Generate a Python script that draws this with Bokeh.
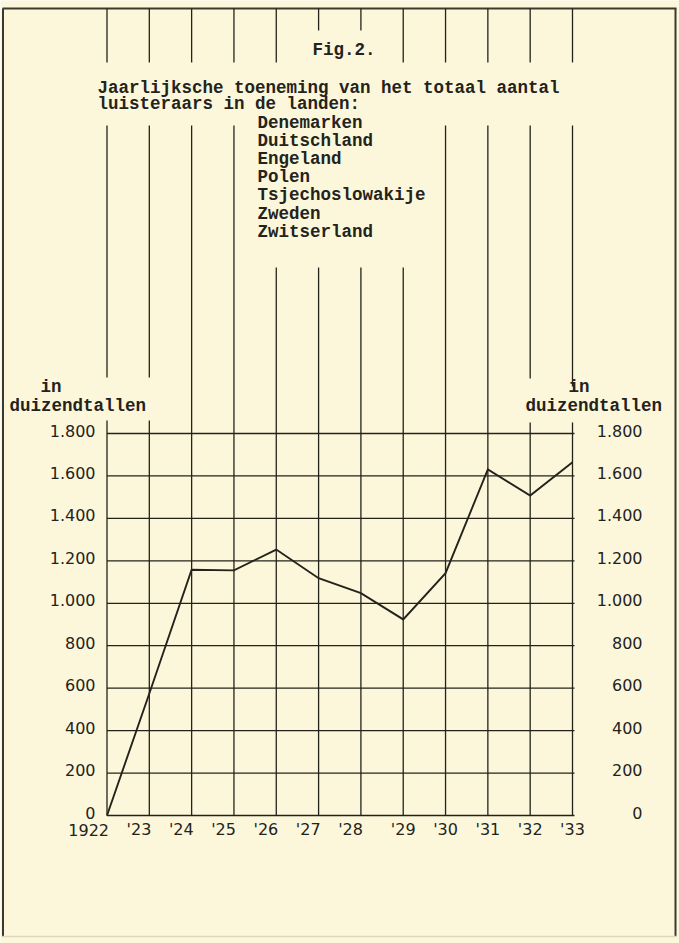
from bokeh.plotting import figure
from bokeh.models import Range1d
from bokeh.core.properties import value
from bokeh.embed import file_html
from bokeh.resources import INLINE

# ---------------- data ----------------
years = [1922, 1923, 1924, 1925, 1926, 1927, 1928, 1929, 1930, 1931, 1932, 1933]
listeners = [0, 575, 1158, 1155, 1253, 1118, 1048, 924, 1142, 1631, 1508, 1665]  # thousands
year_labels = ["1922", "'23", "'24", "'25", "'26", "'27", "'28", "'29", "'30", "'31", "'32", "'33"]
y_ticks = [0, 200, 400, 600, 800, 1000, 1200, 1400, 1600, 1800]
y_tick_labels = ["0", "200", "400", "600", "800", "1.000", "1.200", "1.400", "1.600", "1.800"]
fig_label = "Fig.2."
title_lines = ["Jaarlijksche toeneming van het totaal aantal", "luisteraars in de landen:"]
countries = ["Denemarken", "Duitschland", "Engeland", "Polen",
             "Tsjechoslowakije", "Zweden", "Zwitserland"]
unit_in = "in"
unit_word = "duizendtallen"

# ---------------- layout (page pixels) ----------------
W, H = 679, 943
X_A, X_B = 106.5, 572.0   # page x of first / last year
Y_A, Y_B = 815.0, 433.0   # page y of 0 / top tick
TOP = 8                   # sheet frame top
BG = "#fcf7db"
INK = "#23231b"
MONO = value("Liberation Mono")
LETTER = value("DejaVu Sans")


def dx(px):
    return years[0] + (px - X_A) * (years[-1] - years[0]) / (X_B - X_A)


def dy(py):
    return (Y_A - py) * y_ticks[-1] / (Y_A - Y_B)


p = figure(width=W, height=H,
           x_range=Range1d(dx(0), dx(W)), y_range=Range1d(dy(H), dy(0)),
           output_backend="svg", toolbar_location=None, min_border=0,
           x_axis_location=None, y_axis_location=None,
           background_fill_color=BG, border_fill_color=BG, outline_line_color=None)
p.grid.grid_line_color = None

# frame of the sheet
p.segment(x0=[dx(2.5), dx(2), dx(675)],
          y0=[dy(TOP), dy(TOP), dy(TOP)],
          x1=[dx(2.5), dx(676), dx(675)],
          y1=[dy(936), dy(TOP), dy(936)],
          line_color="#3a3a30", line_width=2)
p.segment(x0=[dx(2)], y0=[dy(936)], x1=[dx(676)], y1=[dy(936)],
          line_color="#ddd7bd", line_width=1.5)

# vertical year lines, interrupted where text sits
vx, vt, vb = [], [], []
for yr in years:
    spans = [(TOP, 30 if yr in (1927, 1928) else 62)]
    start = 267 if 1926 <= yr <= 1929 else 125
    if yr in (1922, 1923):
        spans += [(start, 377), (420, Y_A)]
    elif yr == 1932:
        spans += [(start, 378), (422, Y_A)]
    elif yr == 1933:
        spans += [(start, 386), (422, Y_A)]
    else:
        spans += [(start, Y_A)]
    for t, b in spans:
        vx.append(yr)
        vt.append(dy(t))
        vb.append(dy(b))
p.segment(x0=vx, y0=vt, x1=vx, y1=vb, line_color=INK, line_width=1.3)

# horizontal grid lines
p.segment(x0=[years[0]] * len(y_ticks), x1=[dx(574)] * len(y_ticks),
          y0=y_ticks, y1=y_ticks, line_color=INK, line_width=1.3)

# data line
p.line(years, listeners, line_color=INK, line_width=1.9, line_join="miter")

# y tick labels, left and right
p.text(x=[dx(95)] * len(y_ticks), y=y_ticks, text=y_tick_labels,
       text_align="right", text_baseline="middle", y_offset=-3,
       text_font=LETTER, text_font_size="16px", text_color=INK)
p.text(x=[dx(642)] * len(y_ticks), y=y_ticks, text=y_tick_labels,
       text_align="right", text_baseline="middle", y_offset=-3,
       text_font=LETTER, text_font_size="16px", text_color=INK)

# x tick labels
early = [i for i, yr in enumerate(years) if yr <= 1928]
late = [i for i, yr in enumerate(years) if yr > 1928]
p.text(x=[years[i] for i in early], y=[dy(829)] * len(early),
       text=[year_labels[i] for i in early], x_offset=2,
       text_align="right", text_baseline="middle",
       text_font=LETTER, text_font_size="16px", text_color=INK)
p.text(x=[years[i] for i in late], y=[dy(829)] * len(late),
       text=[year_labels[i] for i in late],
       text_align="center", text_baseline="middle",
       text_font=LETTER, text_font_size="16px", text_color=INK)

# typewritten texts
tw = dict(text_align="left", text_baseline="middle", text_font=MONO,
          text_font_size="17.5px", text_font_style="bold", text_color=INK)
p.text(x=[dx(312)], y=[dy(49)], text=[fig_label], **tw)
p.text(x=[dx(97)] * 2, y=[dy(87), dy(103)], text=title_lines, **tw)
p.text(x=[dx(257)] * len(countries), y=[dy(122 + 18.2 * i) for i in range(len(countries))],
       text=countries, **tw)
p.text(x=[dx(40), dx(9), dx(568), dx(525)], y=[dy(386), dy(405), dy(386), dy(405)],
       text=[unit_in, unit_word, unit_in, unit_word], **tw)

html = file_html(p, INLINE)
html = html.replace("<body>", '<body style="background-color:%s;">' % BG, 1)
open("out.html", "w").write(html)
